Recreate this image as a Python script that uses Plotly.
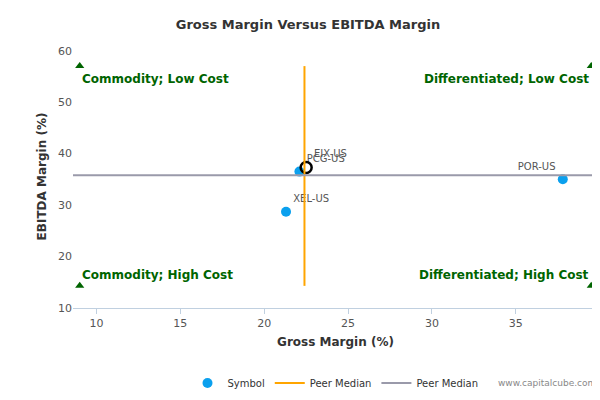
import plotly.graph_objects as go

symbols = ["PCG-US", "XEL-US", "POR-US"]
gross = [22.1, 21.3, 37.8]
ebitda = [36.5, 28.7, 35.0]
label_pos = ["top right", "top right", "top left"]
hl_symbol = ["EIX-US"]
hl_gross = [22.5]
hl_ebitda = [37.3]
med_x = 22.4
med_y = 35.8
xmin, xmax = 9.0, 39.5
ymin, ymax = 14.3, 57.0
corner_labels = ["Commodity; Low Cost", "Differentiated; Low Cost",
                 "Commodity; High Cost", "Differentiated; High Cost"]

fig = go.Figure()
fig.add_trace(go.Scatter(x=gross, y=ebitda, mode="markers+text", text=symbols,
    textposition=label_pos, textfont=dict(size=10, color="#555"),
    marker=dict(size=10, color="#0BA0EE"), name="Symbol"))
fig.add_trace(go.Scatter(x=hl_gross, y=hl_ebitda, mode="markers+text", text=hl_symbol,
    textposition="top right", textfont=dict(size=10, color="#555"),
    marker=dict(size=11, color="rgba(0,0,0,0)", line=dict(color="black", width=2.5)),
    showlegend=False))
fig.add_trace(go.Scatter(x=[med_x, med_x], y=[ymin, ymax], mode="lines",
    line=dict(color="#FFA500", width=2), name="Peer Median"))
fig.add_trace(go.Scatter(x=[8.6, 39.9], y=[med_y, med_y], mode="lines",
    line=dict(color="#9A9AAA", width=2), name="Peer Median"))
fig.add_trace(go.Scatter(x=[xmin, xmax, xmin, xmax], y=[ymax, ymax, ymin, ymin],
    mode="markers", marker=dict(symbol="triangle-up", size=8, color="#006400"),
    showlegend=False, hoverinfo="skip"))
pos = [(xmin, ymax, "left", "top", -4), (xmax, ymax, "right", "top", -4),
       (xmin, ymin, "left", "bottom", 2), (xmax, ymin, "right", "bottom", 2)]
for (x, y, al, va, ys), t in zip(pos, corner_labels):
    fig.add_annotation(x=x, y=y, text=f"<b>{t}</b>", showarrow=False, xanchor=al,
        yanchor=va, yshift=ys, font=dict(size=12, color="#006400"))

fig.update_layout(
    width=600, height=400, plot_bgcolor="white", paper_bgcolor="white",
    font=dict(family="DejaVu Sans", size=11, color="#333"),
    title=dict(text="<b>Gross Margin Versus EBITDA Margin</b>", x=0.5, y=0.97,
               font=dict(size=13, color="#333")),
    margin=dict(l=65, r=10, t=37, b=93),
    xaxis=dict(range=[8.6, 39.9], tickvals=[10, 15, 20, 25, 30, 35], showgrid=False,
               zeroline=False, showline=True, linecolor="#C0D0E0", ticks="outside",
               tickcolor="#C0D0E0", automargin=False,
               title=dict(text="<b>Gross Margin (%)</b>", font=dict(size=12), standoff=8),
               tickfont=dict(color="#555")),
    yaxis=dict(range=[10, 61.1], tickvals=[10, 20, 30, 40, 50, 60], showgrid=False,
               zeroline=False, automargin=False,
               title=dict(text="<b>EBITDA Margin (%)</b>", font=dict(size=12), standoff=8),
               tickfont=dict(color="#555")),
    legend=dict(orientation="h", x=0.5, xanchor="center", y=-0.23, font=dict(size=10)),
)
fig.add_annotation(text="www.capitalcube.com", xref="paper", yref="paper", x=1, y=-0.31,
    xanchor="right", showarrow=False, font=dict(size=9, color="#888"))
fig.write_html("out.html")
